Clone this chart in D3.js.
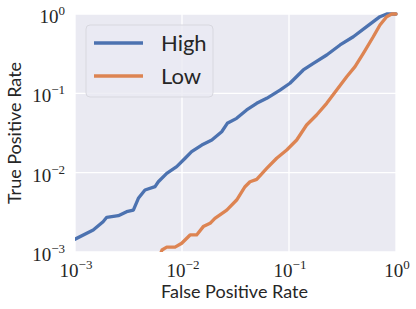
<!DOCTYPE html>
<html>
<head>
<meta charset="utf-8">
<script src="https://cdn.jsdelivr.net/npm/d3@7"></script>
<style>
  html, body { margin: 0; padding: 0; background: #fff; }
  svg { display: block; }
</style>
</head>
<body>
<div id="chart"></div>
<script>
// ROC curves on log-log axes, seaborn darkgrid look.
const seriesNames = ["High", "Low"];
const seriesColors = ["#4C72B0", "#DD8452"];

// values (FPR, TPR)
const highFpr = [0.001, 0.00148, 0.00183, 0.00198, 0.00254, 0.00304, 0.00351, 0.00391, 0.00451, 0.0056, 0.00601, 0.0072, 0.00892, 0.0107, 0.0123, 0.0153, 0.019, 0.0235, 0.0265, 0.0324, 0.0402, 0.0499, 0.0619, 0.0824, 0.102, 0.136, 0.169, 0.225, 0.3, 0.399, 0.532, 0.708, 0.818, 1.0];
const highTpr = [0.00145, 0.00189, 0.00241, 0.00274, 0.00287, 0.00322, 0.00338, 0.00475, 0.00605, 0.00666, 0.00769, 0.00982, 0.0119, 0.0152, 0.0184, 0.0223, 0.0258, 0.0328, 0.0419, 0.0484, 0.0617, 0.0748, 0.0865, 0.110, 0.134, 0.197, 0.239, 0.304, 0.407, 0.517, 0.692, 0.925, 1.0, 1.0];

const lowFpr = [0.0063, 0.0065, 0.0072, 0.00861, 0.00994, 0.0119, 0.0137, 0.0158, 0.0183, 0.0203, 0.0262, 0.0324, 0.0388, 0.0432, 0.0499, 0.0619, 0.0767, 0.0952, 0.118, 0.146, 0.181, 0.225, 0.279, 0.346, 0.414, 0.495, 0.613, 0.708, 0.818, 0.912, 1.0];
const lowTpr = [0.00095, 0.00106, 0.00115, 0.00115, 0.00129, 0.00164, 0.00164, 0.00209, 0.0023, 0.00266, 0.00338, 0.00452, 0.00665, 0.00769, 0.00824, 0.0113, 0.0152, 0.0193, 0.0258, 0.0399, 0.0533, 0.0748, 0.110, 0.162, 0.217, 0.320, 0.517, 0.727, 0.925, 1.0, 1.0];

const tickExps = [-3, -2, -1, 0];

const W = 416, H = 309;
const m = { t: 14, r: 20, b: 57, l: 75 };

const svg = d3.select("#chart").append("svg").attr("width", W).attr("height", H);

const x = d3.scaleLog().domain([1e-3, 1]).range([m.l, W - m.r]);
const y = d3.scaleLog().domain([1e-3, 1]).range([H - m.b, m.t]);

// background
svg.append("rect").attr("x", m.l).attr("y", m.t)
  .attr("width", W - m.r - m.l).attr("height", H - m.b - m.t)
  .attr("fill", "#EAEAF2");

// grid
const tickVals = tickExps.map(e => Math.pow(10, e));
svg.append("g").selectAll("line").data(tickVals).enter().append("line")
  .attr("x1", d => x(d)).attr("x2", d => x(d))
  .attr("y1", m.t).attr("y2", H - m.b)
  .attr("stroke", "#fff").attr("stroke-width", 1.3);
svg.append("g").selectAll("line").data(tickVals).enter().append("line")
  .attr("y1", d => y(d)).attr("y2", d => y(d))
  .attr("x1", m.l).attr("x2", W - m.r)
  .attr("stroke", "#fff").attr("stroke-width", 1.3);

// tick labels: 10^e
const serif = "'Liberation Serif', 'DejaVu Serif', serif";
function powLabel(sel, e) {
  sel.append("tspan").text("10");
  sel.append("tspan").attr("dy", -8).attr("font-size", 13)
    .text(e === 0 ? "0" : "\u2212" + Math.abs(e));
}
tickExps.forEach(e => {
  const t = svg.append("text").attr("x", x(Math.pow(10, e)) + 1).attr("y", H - m.b + 25)
    .attr("text-anchor", "middle").attr("font-family", serif)
    .attr("font-size", 19).attr("fill", "#262626");
  powLabel(t, e);
  const u = svg.append("text").attr("x", m.l - 10).attr("y", y(Math.pow(10, e)) + 9)
    .attr("text-anchor", "end").attr("font-family", serif)
    .attr("font-size", 19).attr("fill", "#262626");
  powLabel(u, e);
});

// axis titles
const sans = "Lato, 'Open Sans', sans-serif";
svg.append("text").attr("x", (m.l + W - m.r) / 2 - 1).attr("y", H - 11)
  .attr("text-anchor", "middle").attr("font-family", sans).attr("font-size", 18)
  .attr("fill", "#262626").text("False Positive Rate");
svg.append("text")
  .attr("transform", `translate(21,${(m.t + H - m.b) / 2}) rotate(-90)`)
  .attr("text-anchor", "middle").attr("font-family", sans).attr("font-size", 18)
  .attr("fill", "#262626").text("True Positive Rate");

// curves
svg.append("clipPath").attr("id", "plotclip").append("rect")
  .attr("x", m.l).attr("y", m.t - 2)
  .attr("width", W - m.r - m.l + 2).attr("height", H - m.b - m.t + 2);
const line = d3.line().x(d => x(d[0])).y(d => y(d[1]));
const series = [d3.zip(highFpr, highTpr), d3.zip(lowFpr, lowTpr)];
const g = svg.append("g").attr("clip-path", "url(#plotclip)");
series.forEach((s, i) => {
  g.append("path").datum(s).attr("d", line)
    .attr("fill", "none").attr("stroke", seriesColors[i])
    .attr("stroke-width", 3.3).attr("stroke-linejoin", "round").attr("stroke-linecap", "round");
});

// legend
const lg = svg.append("g").attr("transform", "translate(86,25)");
lg.append("rect").attr("width", 127).attr("height", 72).attr("rx", 4)
  .attr("fill", "#EAEAF2").attr("fill-opacity", 0.8)
  .attr("stroke", "#d8d8df").attr("stroke-width", 1);
seriesNames.forEach((name, i) => {
  const yy = 18 + i * 33;
  lg.append("line").attr("x1", 8).attr("x2", 57).attr("y1", yy).attr("y2", yy)
    .attr("stroke", seriesColors[i]).attr("stroke-width", 3.3);
  lg.append("text").attr("x", 75).attr("y", yy + 8)
    .attr("font-family", sans).attr("font-size", 22).attr("fill", "#262626").text(name);
});
</script>
</body>
</html>
